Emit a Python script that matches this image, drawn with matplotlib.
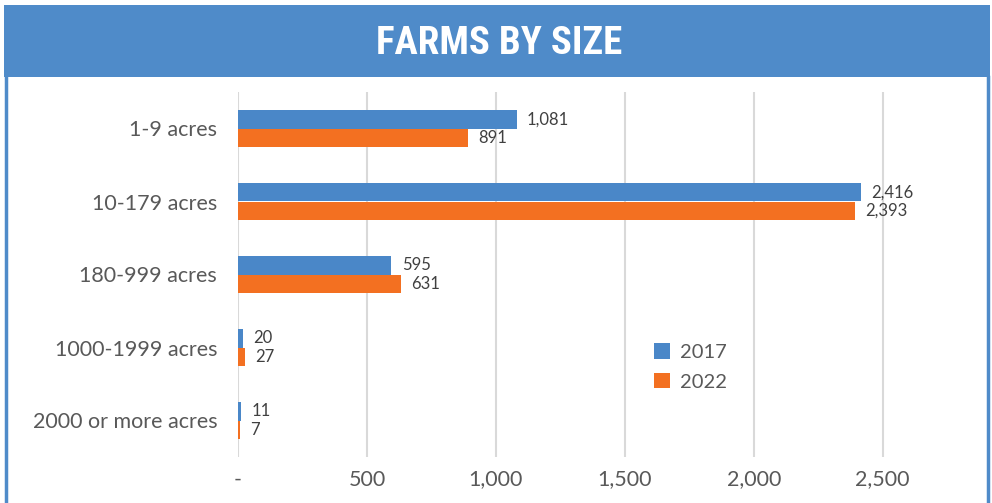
import numpy as np
import matplotlib.pyplot as plt
from matplotlib.patches import Rectangle

# data
categories = ['1-9 acres', '10-179 acres', '180-999 acres', '1000-1999 acres', '2000 or more acres']
farms_2017 = [1081, 2416, 595, 20, 11]
farms_2022 = [891, 2393, 631, 27, 7]
series_labels = ['2017', '2022']
xticks = [0, 500, 1000, 1500, 2000, 2500]
xtick_labels = ['-', '500', '1,000', '1,500', '2,000', '2,500']

blue = '#4a87c8'
orange = '#f37021'
grey = '#595959'

plt.rcParams['font.family'] = ['Lato', 'DejaVu Sans']

W, H = 992, 503
fig = plt.figure(figsize=(W / 100, H / 100), dpi=100)

# header band and frame
fig.patches.append(Rectangle((4 / W, 1 - 77 / H), 986 / W, 72 / H, transform=fig.transFigure,
                             facecolor='#4f8bc9', edgecolor='none', zorder=0))
fig.add_artist(plt.Line2D([6 / W, 6 / W], [0, 1 - 77 / H], transform=fig.transFigure,
                          color='#4f8bc9', lw=2.5))
fig.add_artist(plt.Line2D([988 / W, 988 / W], [0, 1 - 77 / H], transform=fig.transFigure,
                          color='#4f8bc9', lw=2.5))
fig.text(499 / W, 1 - 43 / H, 'FARMS BY SIZE', ha='center', va='center', color='white',
         fontsize=28, fontweight='bold',
         family=['Roboto Condensed', 'Liberation Sans Narrow', 'DejaVu Sans'])

ax = fig.add_axes([238 / W, 1 - 457 / H, (960 - 238) / W, 365 / H])
y = np.arange(len(categories))
h = 0.255
b1 = ax.barh(y - h / 2, farms_2017, height=h, color=blue, label=series_labels[0], zorder=2)
b2 = ax.barh(y + h / 2, farms_2022, height=h, color=orange, label=series_labels[1], zorder=2)

for bars, vals in ((b1, farms_2017), (b2, farms_2022)):
    for bar, v in zip(bars, vals):
        ax.text(bar.get_width() + 40, bar.get_y() + bar.get_height() / 2, f'{v:,}',
                va='center', ha='left', fontsize=12, color='#404040')

ax.set_xlim(0, 2800)
ax.set_ylim(len(categories) - 0.5, -0.5)
ax.set_yticks(y)
ax.set_yticklabels(categories, fontsize=15.5, color=grey)
ax.set_xticks(xticks)
ax.set_xticklabels(xtick_labels, fontsize=15.5, color=grey)
ax.tick_params(length=0)
ax.tick_params(axis='y', pad=15)
ax.tick_params(axis='x', pad=9)
ax.grid(axis='x', color='#d9d9d9', lw=1.5, zorder=0)
for s in ax.spines.values():
    s.set_visible(False)

ax.legend(loc='upper left', bbox_to_anchor=((636 - 238) / (960 - 238), (457 - 325) / 365),
          frameon=False, fontsize=14.5, handlelength=0.8, handleheight=0.8,
          labelspacing=0.6, handletextpad=0.5, labelcolor=grey)

fig.savefig('out.png', dpi=100)
